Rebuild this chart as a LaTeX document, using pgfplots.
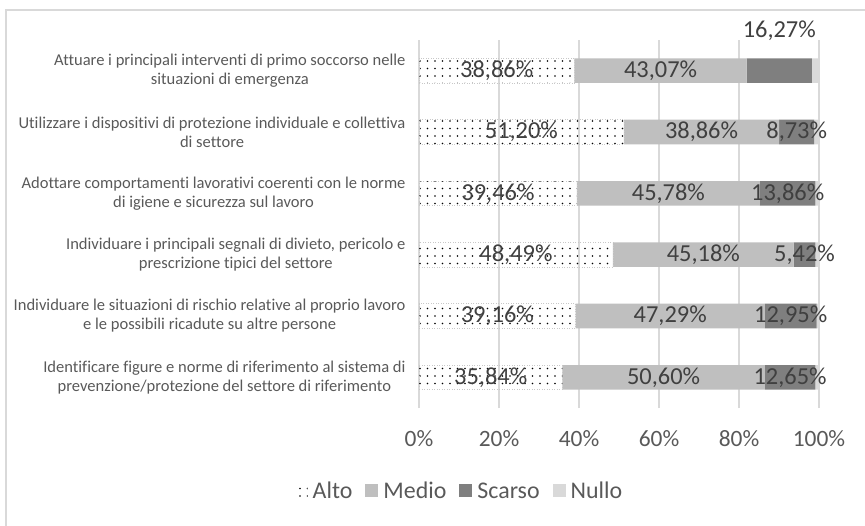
\documentclass[border=0pt]{standalone}
\usepackage{pgfplots}
\pgfplotsset{compat=1.18}
\usepackage{pgfplotstable}
\usepackage{fontspec}
\setmainfont{Carlito}[Ligatures=NoCommon]
\usetikzlibrary{patterns.meta}
\definecolor{txt}{HTML}{595959}
\definecolor{lbl}{HTML}{404040}
\definecolor{gridc}{HTML}{D9D9D9}
\definecolor{medio}{HTML}{BFBFBF}
\definecolor{scarso}{HTML}{7F7F7F}
\definecolor{nullo}{HTML}{D9D9D9}
\pgfplotstableread{
y alto medio scarso nullo sdy
0 35.84 50.60 12.65 0.91 0
1 39.16 47.29 12.95 0.60 0
2 48.49 45.18 5.42 0.91 0
3 39.46 45.78 13.86 0.90 0
4 51.20 38.86 8.73 1.21 0
5 38.86 43.07 16.27 1.80 40
}\data
\begin{document}
\begin{tikzpicture}
\useasboundingbox (0,0) rectangle (865bp,-526bp);
\draw[gridc, line width=1.5bp] (6bp,-540bp) -- (6bp,-10bp) -- (880bp,-10bp);
\begin{axis}[
 at={(419bp,-408bp)}, anchor=south west,
 width=400bp, height=368bp, scale only axis,
 xbar stacked, bar width=0.4,
 xmin=0, xmax=100, ymin=-0.5, ymax=5.5,
 xtick={0,20,40,60,80,100},
 xticklabels={0\%,20\%,40\%,60\%,80\%,100\%},
 ytick={0,1,2,3,4,5},
 yticklabels={
  {Identificare figure e norme di riferimento al sistema di\\prevenzione/protezione del settore di riferimento},
  {Individuare le situazioni di rischio relative al proprio lavoro\\e le possibili ricadute su altre persone},
  {Individuare i principali segnali di divieto, pericolo e\\prescrizione tipici del settore},
  {Adottare comportamenti lavorativi coerenti con le norme\\di igiene e sicurezza sul lavoro},
  {Utilizzare i dispositivi di protezione individuale e collettiva\\di settore},
  {Attuare i principali interventi di primo soccorso nelle\\situazioni di emergenza}},
 xmajorgrids, grid style={gridc, line width=1.5bp},
 axis line style={draw=none},
 major tick length=0pt,
 tick label style={text=txt},
 xticklabel style={font=\fontsize{23.5}{25}\selectfont, yshift=-19bp},
 yticklabel style={font=\fontsize{16.6}{19}\selectfont, align=center, xshift=-10bp},
 /pgf/number format/assume math mode=true,
 every node near coord/.append style={font=\fontsize{24.5}{26}\selectfont, text=lbl, anchor=center},
 legend style={at={(0.105,-0.231)}, anchor=center, draw=none, fill=none, legend columns=4,
   font=\fontsize{24}{26}\selectfont, text=txt,
   nodes={text height=1.55ex, text depth=0.3ex, inner xsep=5bp},
   /tikz/every even column/.append style={column sep=8bp},
   legend cell align=left},
 legend image code/.code={\draw[#1, draw=none] (0bp,-1bp) rectangle (13bp,12bp);},
]
\addplot[pattern={Dots[radius=0.9bp, distance=7.5bp]}, pattern color=black,
  draw={rgb,255:red,200;green,200;blue,200}, dash pattern=on 1bp off 1.5bp, line width=0.6bp,
  point meta=explicit,
  nodes near coords={\pgfmathprintnumber[fixed,fixed zerofill,precision=2,use comma]{\pgfplotspointmeta}\%}]
  table[x=alto, y=y, meta=alto] {\data};
\addlegendentry{Alto}
\addplot[fill=medio, draw=none,
  point meta=explicit,
  nodes near coords={\pgfmathprintnumber[fixed,fixed zerofill,precision=2,use comma]{\pgfplotspointmeta}\%}]
  table[x=medio, y=y, meta=medio] {\data};
\addlegendentry{Medio}
\addplot[fill=scarso, draw=none,
  point meta=explicit,
  visualization depends on={\thisrow{sdy} \as \sdy},
  nodes near coords={\pgfmathprintnumber[fixed,fixed zerofill,precision=2,use comma]{\pgfplotspointmeta}\%},
  every node near coord/.append style={yshift=\sdy*1bp}]
  table[x=scarso, y=y, meta=scarso] {\data};
\addlegendentry{Scarso}
\addplot[fill=nullo, draw=none] table[x=nullo, y=y] {\data};
\addlegendentry{Nullo}
\end{axis}
\end{tikzpicture}
\end{document}
